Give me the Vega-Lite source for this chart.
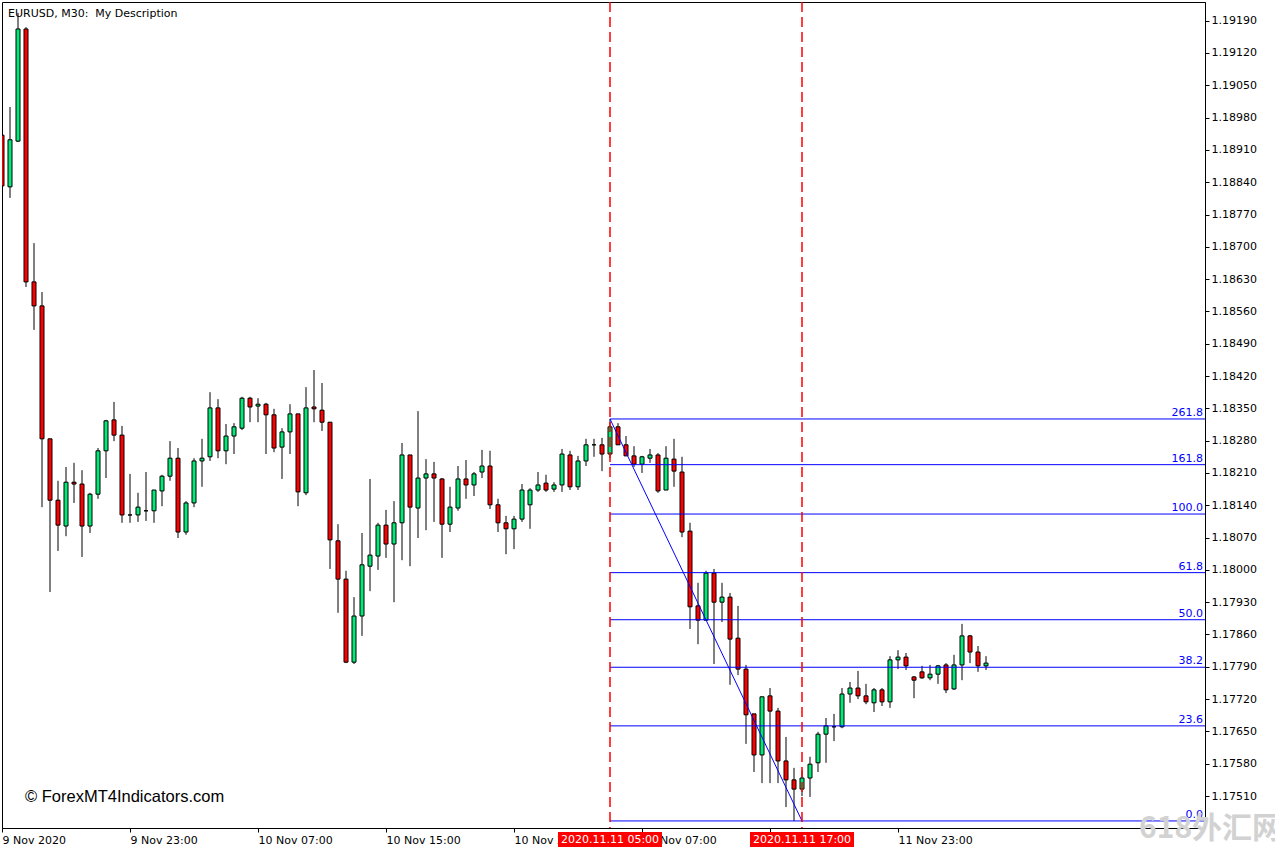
{
  "$schema": "https://vega.github.io/schema/vega-lite/v6.json",
  "width": 1203,
  "height": 826,
  "autosize": {"type": "none"},
  "padding": {"left": 2, "top": 2, "right": 70, "bottom": 24},
  "background": "#ffffff",
  "title": {"text": "EURUSD, M30:\u00a0 My Description", "anchor": "start", "frame": "group", "orient": "top", "offset": -14, "dx": 6, "dy": 13, "baseline": "alphabetic", "font": "DejaVu Sans", "fontSize": 11, "fontWeight": "normal", "color": "#000000"},
  "config": {
    "font": "DejaVu Sans",
    "view": {"stroke": "#000000", "strokeWidth": 1},
    "axis": {"grid": false, "title": null, "domainColor": "#000000", "tickColor": "#000000", "labelColor": "#000000", "labelFontSize": 11, "labelFont": "DejaVu Sans", "tickSize": 4, "labelOverlap": false, "labelFlush": false, "zindex": 0}
  },
  "datasets": {
    "bars": [
      {"t":"2020-11-09T15:00Z","o":1.18942,"h":1.18953,"l":1.18823,"c":1.18832},
      {"t":"2020-11-09T15:30Z","o":1.18830,"h":1.19003,"l":1.18806,"c":1.18932},
      {"t":"2020-11-09T16:00Z","o":1.18929,"h":1.19207,"l":1.18927,"c":1.19172},
      {"t":"2020-11-09T16:30Z","o":1.19172,"h":1.19176,"l":1.18613,"c":1.18624},
      {"t":"2020-11-09T17:00Z","o":1.18624,"h":1.18708,"l":1.18520,"c":1.18572},
      {"t":"2020-11-09T17:30Z","o":1.18572,"h":1.18602,"l":1.18136,"c":1.18284},
      {"t":"2020-11-09T18:00Z","o":1.18284,"h":1.18284,"l":1.17952,"c":1.18151},
      {"t":"2020-11-09T18:30Z","o":1.18151,"h":1.18193,"l":1.18041,"c":1.18097},
      {"t":"2020-11-09T19:00Z","o":1.18095,"h":1.18223,"l":1.18073,"c":1.18190},
      {"t":"2020-11-09T19:30Z","o":1.18190,"h":1.18232,"l":1.18145,"c":1.18186},
      {"t":"2020-11-09T20:00Z","o":1.18186,"h":1.18216,"l":1.18028,"c":1.18095},
      {"t":"2020-11-09T20:30Z","o":1.18095,"h":1.18167,"l":1.18080,"c":1.18164},
      {"t":"2020-11-09T21:00Z","o":1.18164,"h":1.18264,"l":1.18154,"c":1.18258},
      {"t":"2020-11-09T21:30Z","o":1.18258,"h":1.18325,"l":1.18199,"c":1.18323},
      {"t":"2020-11-09T22:00Z","o":1.18325,"h":1.18364,"l":1.18279,"c":1.18292},
      {"t":"2020-11-09T22:30Z","o":1.18292,"h":1.18312,"l":1.18102,"c":1.18119},
      {"t":"2020-11-09T23:00Z","o":1.18119,"h":1.18208,"l":1.18102,"c":1.18119},
      {"t":"2020-11-09T23:30Z","o":1.18119,"h":1.18167,"l":1.18104,"c":1.18136},
      {"t":"2020-11-10T00:00Z","o":1.18128,"h":1.18212,"l":1.18106,"c":1.18128},
      {"t":"2020-11-10T00:30Z","o":1.18128,"h":1.18173,"l":1.18102,"c":1.18173},
      {"t":"2020-11-10T01:00Z","o":1.18171,"h":1.18206,"l":1.18138,"c":1.18203},
      {"t":"2020-11-10T01:30Z","o":1.18203,"h":1.18279,"l":1.18193,"c":1.18242},
      {"t":"2020-11-10T02:00Z","o":1.18242,"h":1.18264,"l":1.18069,"c":1.18082},
      {"t":"2020-11-10T02:30Z","o":1.18082,"h":1.18149,"l":1.18076,"c":1.18145},
      {"t":"2020-11-10T03:00Z","o":1.18145,"h":1.18242,"l":1.18136,"c":1.18236},
      {"t":"2020-11-10T03:30Z","o":1.18236,"h":1.18284,"l":1.18180,"c":1.18242},
      {"t":"2020-11-10T04:00Z","o":1.18245,"h":1.18385,"l":1.18236,"c":1.18351},
      {"t":"2020-11-10T04:30Z","o":1.18351,"h":1.18370,"l":1.18242,"c":1.18258},
      {"t":"2020-11-10T05:00Z","o":1.18258,"h":1.18316,"l":1.18229,"c":1.18290},
      {"t":"2020-11-10T05:30Z","o":1.18290,"h":1.18318,"l":1.18251,"c":1.18310},
      {"t":"2020-11-10T06:00Z","o":1.18307,"h":1.18375,"l":1.18303,"c":1.18372},
      {"t":"2020-11-10T06:30Z","o":1.18372,"h":1.18375,"l":1.18320,"c":1.18353},
      {"t":"2020-11-10T07:00Z","o":1.18355,"h":1.18372,"l":1.18320,"c":1.18359},
      {"t":"2020-11-10T07:30Z","o":1.18359,"h":1.18362,"l":1.18251,"c":1.18336},
      {"t":"2020-11-10T08:00Z","o":1.18336,"h":1.18349,"l":1.18255,"c":1.18264},
      {"t":"2020-11-10T08:30Z","o":1.18266,"h":1.18307,"l":1.18197,"c":1.18299},
      {"t":"2020-11-10T09:00Z","o":1.18299,"h":1.18359,"l":1.18251,"c":1.18338},
      {"t":"2020-11-10T09:30Z","o":1.18338,"h":1.18338,"l":1.18138,"c":1.18169},
      {"t":"2020-11-10T10:00Z","o":1.18167,"h":1.18396,"l":1.18162,"c":1.18351},
      {"t":"2020-11-10T10:30Z","o":1.18353,"h":1.18433,"l":1.18320,"c":1.18349},
      {"t":"2020-11-10T11:00Z","o":1.18346,"h":1.18405,"l":1.18301,"c":1.18320},
      {"t":"2020-11-10T11:30Z","o":1.18320,"h":1.18320,"l":1.18002,"c":1.18065},
      {"t":"2020-11-10T12:00Z","o":1.18063,"h":1.18099,"l":1.17907,"c":1.17980},
      {"t":"2020-11-10T12:30Z","o":1.17980,"h":1.17998,"l":1.17798,"c":1.17800},
      {"t":"2020-11-10T13:00Z","o":1.17800,"h":1.17941,"l":1.17796,"c":1.17900},
      {"t":"2020-11-10T13:30Z","o":1.17900,"h":1.18080,"l":1.17857,"c":1.18011},
      {"t":"2020-11-10T14:00Z","o":1.18008,"h":1.18197,"l":1.17954,"c":1.18032},
      {"t":"2020-11-10T14:30Z","o":1.18030,"h":1.18102,"l":1.18000,"c":1.18097},
      {"t":"2020-11-10T15:00Z","o":1.18097,"h":1.18130,"l":1.18026,"c":1.18056},
      {"t":"2020-11-10T15:30Z","o":1.18056,"h":1.18149,"l":1.17930,"c":1.18102},
      {"t":"2020-11-10T16:00Z","o":1.18102,"h":1.18275,"l":1.18021,"c":1.18249},
      {"t":"2020-11-10T16:30Z","o":1.18249,"h":1.18249,"l":1.18008,"c":1.18136},
      {"t":"2020-11-10T17:00Z","o":1.18134,"h":1.18344,"l":1.18069,"c":1.18199},
      {"t":"2020-11-10T17:30Z","o":1.18199,"h":1.18240,"l":1.18086,"c":1.18208},
      {"t":"2020-11-10T18:00Z","o":1.18208,"h":1.18234,"l":1.18104,"c":1.18199},
      {"t":"2020-11-10T18:30Z","o":1.18197,"h":1.18199,"l":1.18026,"c":1.18099},
      {"t":"2020-11-10T19:00Z","o":1.18099,"h":1.18180,"l":1.18082,"c":1.18136},
      {"t":"2020-11-10T19:30Z","o":1.18134,"h":1.18225,"l":1.18128,"c":1.18197},
      {"t":"2020-11-10T20:00Z","o":1.18197,"h":1.18238,"l":1.18154,"c":1.18184},
      {"t":"2020-11-10T20:30Z","o":1.18184,"h":1.18212,"l":1.18160,"c":1.18208},
      {"t":"2020-11-10T21:00Z","o":1.18212,"h":1.18260,"l":1.18199,"c":1.18225},
      {"t":"2020-11-10T21:30Z","o":1.18225,"h":1.18258,"l":1.18132,"c":1.18141},
      {"t":"2020-11-10T22:00Z","o":1.18141,"h":1.18154,"l":1.18082,"c":1.18102},
      {"t":"2020-11-10T22:30Z","o":1.18102,"h":1.18117,"l":1.18034,"c":1.18089},
      {"t":"2020-11-10T23:00Z","o":1.18089,"h":1.18117,"l":1.18045,"c":1.18110},
      {"t":"2020-11-10T23:30Z","o":1.18110,"h":1.18186,"l":1.18104,"c":1.18173},
      {"t":"2020-11-11T00:00Z","o":1.18141,"h":1.18177,"l":1.18089,"c":1.18173},
      {"t":"2020-11-11T00:30Z","o":1.18173,"h":1.18212,"l":1.18169,"c":1.18184},
      {"t":"2020-11-11T01:00Z","o":1.18188,"h":1.18206,"l":1.18169,"c":1.18173},
      {"t":"2020-11-11T01:30Z","o":1.18175,"h":1.18190,"l":1.18169,"c":1.18184},
      {"t":"2020-11-11T02:00Z","o":1.18184,"h":1.18262,"l":1.18169,"c":1.18251},
      {"t":"2020-11-11T02:30Z","o":1.18249,"h":1.18258,"l":1.18173,"c":1.18180},
      {"t":"2020-11-11T03:00Z","o":1.18180,"h":1.18247,"l":1.18173,"c":1.18236},
      {"t":"2020-11-11T03:30Z","o":1.18236,"h":1.18284,"l":1.18225,"c":1.18271},
      {"t":"2020-11-11T04:00Z","o":1.18271,"h":1.18284,"l":1.18245,"c":1.18271},
      {"t":"2020-11-11T04:30Z","o":1.18271,"h":1.18286,"l":1.18214,"c":1.18251},
      {"t":"2020-11-11T05:00Z","o":1.18251,"h":1.18327,"l":1.18242,"c":1.18310},
      {"t":"2020-11-11T05:30Z","o":1.18310,"h":1.18318,"l":1.18271,"c":1.18271},
      {"t":"2020-11-11T06:00Z","o":1.18271,"h":1.18290,"l":1.18247,"c":1.18247},
      {"t":"2020-11-11T06:30Z","o":1.18247,"h":1.18268,"l":1.18223,"c":1.18229},
      {"t":"2020-11-11T07:00Z","o":1.18229,"h":1.18247,"l":1.18210,"c":1.18245},
      {"t":"2020-11-11T07:30Z","o":1.18242,"h":1.18262,"l":1.18232,"c":1.18249},
      {"t":"2020-11-11T08:00Z","o":1.18249,"h":1.18253,"l":1.18167,"c":1.18171},
      {"t":"2020-11-11T08:30Z","o":1.18173,"h":1.18268,"l":1.18173,"c":1.18242},
      {"t":"2020-11-11T09:00Z","o":1.18240,"h":1.18284,"l":1.18180,"c":1.18214},
      {"t":"2020-11-11T09:30Z","o":1.18212,"h":1.18245,"l":1.18071,"c":1.18082},
      {"t":"2020-11-11T10:00Z","o":1.18084,"h":1.18102,"l":1.17872,"c":1.17920},
      {"t":"2020-11-11T10:30Z","o":1.17922,"h":1.17972,"l":1.17839,"c":1.17891},
      {"t":"2020-11-11T11:00Z","o":1.17891,"h":1.17998,"l":1.17891,"c":1.17993},
      {"t":"2020-11-11T11:30Z","o":1.17993,"h":1.18002,"l":1.17796,"c":1.17930},
      {"t":"2020-11-11T12:00Z","o":1.17930,"h":1.17972,"l":1.17887,"c":1.17941},
      {"t":"2020-11-11T12:30Z","o":1.17941,"h":1.17950,"l":1.17751,"c":1.17850},
      {"t":"2020-11-11T13:00Z","o":1.17852,"h":1.17922,"l":1.17772,"c":1.17785},
      {"t":"2020-11-11T13:30Z","o":1.17785,"h":1.17794,"l":1.17623,"c":1.17686},
      {"t":"2020-11-11T14:00Z","o":1.17688,"h":1.17688,"l":1.17562,"c":1.17599},
      {"t":"2020-11-11T14:30Z","o":1.17599,"h":1.17725,"l":1.17538,"c":1.17725},
      {"t":"2020-11-11T15:00Z","o":1.17727,"h":1.17744,"l":1.17538,"c":1.17694},
      {"t":"2020-11-11T15:30Z","o":1.17694,"h":1.17701,"l":1.17538,"c":1.17586},
      {"t":"2020-11-11T16:00Z","o":1.17586,"h":1.17638,"l":1.17486,"c":1.17545},
      {"t":"2020-11-11T16:30Z","o":1.17545,"h":1.17571,"l":1.17456,"c":1.17525},
      {"t":"2020-11-11T17:00Z","o":1.17525,"h":1.17566,"l":1.17510,"c":1.17549},
      {"t":"2020-11-11T17:30Z","o":1.17549,"h":1.17595,"l":1.17508,"c":1.17579},
      {"t":"2020-11-11T18:00Z","o":1.17582,"h":1.17649,"l":1.17562,"c":1.17644},
      {"t":"2020-11-11T18:30Z","o":1.17644,"h":1.17679,"l":1.17582,"c":1.17662},
      {"t":"2020-11-11T19:00Z","o":1.17660,"h":1.17688,"l":1.17629,"c":1.17660},
      {"t":"2020-11-11T19:30Z","o":1.17660,"h":1.17744,"l":1.17657,"c":1.17731},
      {"t":"2020-11-11T20:00Z","o":1.17731,"h":1.17757,"l":1.17712,"c":1.17744},
      {"t":"2020-11-11T20:30Z","o":1.17744,"h":1.17781,"l":1.17720,"c":1.17727},
      {"t":"2020-11-11T21:00Z","o":1.17727,"h":1.17753,"l":1.17709,"c":1.17714},
      {"t":"2020-11-11T21:30Z","o":1.17712,"h":1.17744,"l":1.17692,"c":1.17740},
      {"t":"2020-11-11T22:00Z","o":1.17740,"h":1.17744,"l":1.17705,"c":1.17714},
      {"t":"2020-11-11T22:30Z","o":1.17714,"h":1.17813,"l":1.17701,"c":1.17805},
      {"t":"2020-11-11T23:00Z","o":1.17805,"h":1.17826,"l":1.17785,"c":1.17811},
      {"t":"2020-11-11T23:30Z","o":1.17811,"h":1.17820,"l":1.17783,"c":1.17792},
      {"t":"2020-11-12T00:00Z","o":1.17768,"h":1.17770,"l":1.17722,"c":1.17761},
      {"t":"2020-11-12T00:30Z","o":1.17779,"h":1.17792,"l":1.17764,"c":1.17766},
      {"t":"2020-11-12T01:00Z","o":1.17766,"h":1.17794,"l":1.17761,"c":1.17774},
      {"t":"2020-11-12T01:30Z","o":1.17774,"h":1.17794,"l":1.17753,"c":1.17792},
      {"t":"2020-11-12T02:00Z","o":1.17794,"h":1.17798,"l":1.17733,"c":1.17740},
      {"t":"2020-11-12T02:30Z","o":1.17742,"h":1.17816,"l":1.17740,"c":1.17794},
      {"t":"2020-11-12T03:00Z","o":1.17794,"h":1.17883,"l":1.17761,"c":1.17857},
      {"t":"2020-11-12T03:30Z","o":1.17857,"h":1.17859,"l":1.17798,"c":1.17822},
      {"t":"2020-11-12T04:00Z","o":1.17822,"h":1.17835,"l":1.17779,"c":1.17792},
      {"t":"2020-11-12T04:30Z","o":1.17792,"h":1.17813,"l":1.17783,"c":1.17798}
    ],
    "fib": [
      {"t":"2020-11-11T05:00Z","p":1.18327,"lbl":"261.8"},
      {"t":"2020-11-11T05:00Z","p":1.18228,"lbl":"161.8"},
      {"t":"2020-11-11T05:00Z","p":1.18121,"lbl":"100.0"},
      {"t":"2020-11-11T05:00Z","p":1.17994,"lbl":"61.8"},
      {"t":"2020-11-11T05:00Z","p":1.17892,"lbl":"50.0"},
      {"t":"2020-11-11T05:00Z","p":1.17789,"lbl":"38.2"},
      {"t":"2020-11-11T05:00Z","p":1.17662,"lbl":"23.6"},
      {"t":"2020-11-11T05:00Z","p":1.17456,"lbl":"0.0"}
    ],
    "trend": [
      {"t":"2020-11-11T05:00Z","p":1.18327},
      {"t":"2020-11-11T17:00Z","p":1.17456}
    ],
    "vlines": [
      {"t":"2020-11-11T05:00Z","lbl":"2020.11.11 05:00"},
      {"t":"2020-11-11T17:00Z","lbl":"2020.11.11 17:00"}
    ],
    "marks": [
      {"txt":"© ForexMT4Indicators.com"}
    ],
    "wm": [
      {"txt":"618外汇网"}
    ]
  },
  "layer": [
    {
      "data": {"name": "bars"},
      "mark": {"type": "rule", "color": "#000000", "strokeWidth": 1, "clip": true},
      "encoding": {
        "x": {"field": "t", "type": "temporal",
          "scale": {"type": "utc", "padding": 0, "nice": false, "domain": [{"year": 2020, "month": 11, "date": 9, "hours": 15, "utc": true}, {"year": 2020, "month": 11, "date": 12, "hours": 18, "minutes": 11, "seconds": 15, "utc": true}]},
          "axis": {"orient": "bottom", "labelAlign": "left", "labelPadding": 2, "labelBaseline": "top", "labelOverlap": false, "labelSeparation": 0, "tickCount": 40, "zindex": 0,
            "values": [
              {"year": 2020, "month": 11, "date": 9, "hours": 15, "utc": true},
              {"year": 2020, "month": 11, "date": 9, "hours": 23, "utc": true},
              {"year": 2020, "month": 11, "date": 10, "hours": 7, "utc": true},
              {"year": 2020, "month": 11, "date": 10, "hours": 15, "utc": true},
              {"year": 2020, "month": 11, "date": 10, "hours": 23, "utc": true},
              {"year": 2020, "month": 11, "date": 11, "hours": 7, "utc": true},
              {"year": 2020, "month": 11, "date": 11, "hours": 15, "utc": true},
              {"year": 2020, "month": 11, "date": 11, "hours": 23, "utc": true}
            ],
            "labelExpr": "datum.index == 0 ? utcFormat(datum.value, '%-d %b %Y') : utcFormat(datum.value, '%-d %b %H:%M')"}},
        "y": {"field": "l", "type": "quantitative",
          "scale": {"domain": [1.174407, 1.192305], "nice": false, "zero": false, "padding": 0},
          "axis": {"orient": "right", "format": ".5f", "labelPadding": 2, "labelBaseline": "middle", "labelOverlap": false, "labelSeparation": 0, "tickCount": 40, "zindex": 0,
            "values": [1.1751, 1.1758, 1.1765, 1.1772, 1.1779, 1.1786, 1.1793, 1.18, 1.1807, 1.1814, 1.1821, 1.1828, 1.1835, 1.1842, 1.1849, 1.1856, 1.1863, 1.187, 1.1877, 1.1884, 1.1891, 1.1898, 1.1905, 1.1912, 1.1919]}},
        "y2": {"field": "h"}
      }
    },
    {
      "data": {"name": "bars"},
      "mark": {"type": "bar", "width": 4, "stroke": "#000000", "strokeWidth": 1, "clip": true},
      "encoding": {
        "x": {"field": "t", "type": "temporal"},
        "y": {"field": "o", "type": "quantitative"},
        "y2": {"field": "c"},
        "fill": {"condition": {"test": "datum.c > datum.o", "value": "#00ea78"}, "value": "#ff0000"}
      }
    },
    {
      "data": {"name": "fib"},
      "mark": {"type": "rule", "color": "#0000ff", "strokeWidth": 1},
      "encoding": {
        "x": {"field": "t", "type": "temporal"},
        "x2": {"value": "width"},
        "y": {"field": "p", "type": "quantitative"}
      }
    },
    {
      "data": {"name": "trend"},
      "mark": {"type": "line", "color": "#0000ff", "strokeWidth": 1},
      "encoding": {
        "x": {"field": "t", "type": "temporal"},
        "y": {"field": "p", "type": "quantitative"}
      }
    },
    {
      "data": {"name": "vlines"},
      "mark": {"type": "rule", "color": "#ff0000", "strokeWidth": 1.5, "strokeDash": [10, 5]},
      "encoding": {
        "x": {"field": "t", "type": "temporal"}
      }
    },
    {
      "data": {"name": "fib"},
      "mark": {"type": "text", "color": "#0000ff", "fontSize": 11, "font": "DejaVu Sans", "align": "right", "baseline": "alphabetic", "dx": -2, "dy": -3},
      "encoding": {
        "x": {"value": "width"},
        "y": {"field": "p", "type": "quantitative"},
        "text": {"field": "lbl"}
      }
    },
    {
      "data": {"name": "vlines"},
      "mark": {"type": "rect", "color": "#ff0000", "width": 104, "height": 15, "yOffset": 11.5},
      "encoding": {
        "x": {"field": "t", "type": "temporal"},
        "y": {"value": "height"}
      }
    },
    {
      "data": {"name": "vlines"},
      "mark": {"type": "text", "color": "#ffffff", "fontSize": 11, "font": "DejaVu Sans", "align": "center", "baseline": "middle", "dy": 11.5},
      "encoding": {
        "x": {"field": "t", "type": "temporal"},
        "y": {"value": "height"},
        "text": {"field": "lbl"}
      }
    },
    {
      "data": {"name": "marks"},
      "mark": {"type": "text", "color": "#000000", "fontSize": 16.5, "font": "Liberation Sans", "align": "left", "baseline": "middle", "dx": 23, "dy": -31},
      "encoding": {
        "x": {"value": 0},
        "y": {"value": "height"},
        "text": {"field": "txt"}
      }
    },
    {
      "data": {"name": "wm"},
      "mark": {"type": "text", "color": "#d2d2d2", "fontSize": 30, "fontWeight": "bold", "font": "Noto Sans CJK SC", "align": "left", "baseline": "middle", "dx": -66, "dy": 1},
      "encoding": {
        "x": {"value": "width"},
        "y": {"value": "height"},
        "text": {"field": "txt"}
      }
    }
  ]
}
